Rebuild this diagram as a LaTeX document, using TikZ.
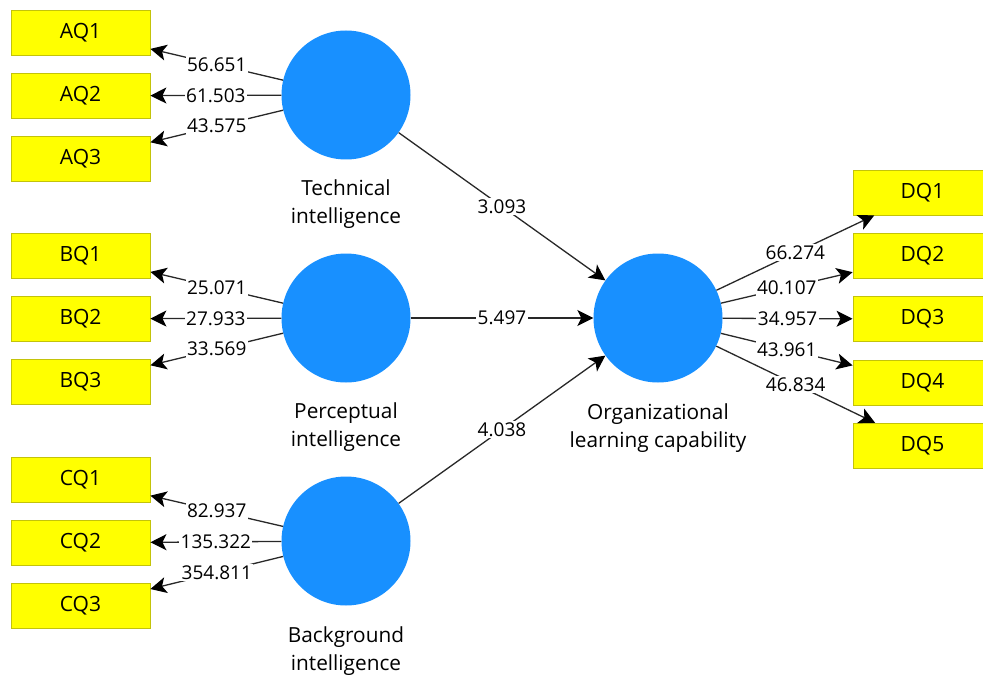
\documentclass[tikz,border=0pt]{standalone}
\usepackage{fontspec}
\setmainfont{Open Sans}
\usetikzlibrary{positioning,arrows.meta}

\definecolor{itemfill}{RGB}{255,255,0}
\definecolor{itemline}{RGB}{195,195,10}
\definecolor{lvfill}{RGB}{24,144,255}
\definecolor{pathline}{RGB}{40,40,40}

\begin{document}
\begin{tikzpicture}[x=1pt,y=-1pt,font=\fontsize{19}{28}\selectfont]
    \tikzstyle{item}=[draw=itemline, fill=itemfill, line width=0.8pt, minimum width=139pt, minimum height=45pt, inner sep=0pt, font=\fontsize{21}{28}\selectfont, node distance=63.3pt, on grid]
    \tikzstyle{latent}=[circle, fill=lvfill, minimum size=129pt, inner sep=0pt]
    \tikzstyle{caption}=[align=center, inner sep=0pt, font=\fontsize{20.8}{28}\selectfont]
    \tikzstyle{path}=[line width=1.3pt, draw=pathline, -{Stealth[length=16pt,width=16pt,inset=4pt,black]}]
    \tikzstyle{coef}=[fill=white, inner sep=1.5pt, midway]

    \clip (0,0) rectangle (983,682);
    \fill[white] (0,0) rectangle (983,682);

    % latent variables
    \node[latent] (tech) at (346,95) {};
    \node[latent] (perc) at (346,318) {};
    \node[latent] (back) at (346,541) {};
    \node[latent] (olc)  at (658,318) {};

    \node[caption] at (346,204) {Technical\\intelligence};
    \node[caption] at (346,427) {Perceptual\\intelligence};
    \node[caption] at (346,651) {Background\\intelligence};
    \node[caption] at (658,428) {Organizational\\learning capability};

    % indicators
    \node[item] (aq1) at (80.5,32.5) {AQ1};
    \node[item,below of=aq1] (aq2) {AQ2};
    \node[item,below of=aq2] (aq3) {AQ3};

    \node[item] (bq1) at (80.5,255.5) {BQ1};
    \node[item,below of=bq1] (bq2) {BQ2};
    \node[item,below of=bq2] (bq3) {BQ3};

    \node[item] (cq1) at (80.5,479.5) {CQ1};
    \node[item,below of=cq1] (cq2) {CQ2};
    \node[item,below of=cq2] (cq3) {CQ3};

    \node[item] (dq1) at (922.5,192.5) {DQ1};
    \node[item,below of=dq1] (dq2) {DQ2};
    \node[item,below of=dq2] (dq3) {DQ3};
    \node[item,below of=dq3] (dq4) {DQ4};
    \node[item,below of=dq4] (dq5) {DQ5};

    % outer loadings
    \draw[path] (tech) -- node[coef] {56.651} (aq1);
    \draw[path] (tech) -- node[coef] {61.503} (aq2);
    \draw[path] (tech) -- node[coef] {43.575} (aq3);

    \draw[path] (perc) -- node[coef] {25.071} (bq1);
    \draw[path] (perc) -- node[coef] {27.933} (bq2);
    \draw[path] (perc) -- node[coef] {33.569} (bq3);

    \draw[path] (back) -- node[coef] {82.937} (cq1);
    \draw[path] (back) -- node[coef] {135.322} (cq2);
    \draw[path] (back) -- node[coef] {354.811} (cq3);

    \draw[path] (olc) -- node[coef] {66.274} (dq1);
    \draw[path] (olc) -- node[coef] {40.107} (dq2);
    \draw[path] (olc) -- node[coef] {34.957} (dq3);
    \draw[path] (olc) -- node[coef] {43.961} (dq4);
    \draw[path] (olc) -- node[coef] {46.834} (dq5);

    % inner model
    \draw[path] (tech) -- node[coef] {3.093} (olc);
    \draw[path] (perc) -- node[coef] {5.497} (olc);
    \draw[path] (back) -- node[coef] {4.038} (olc);
\end{tikzpicture}
\end{document}
